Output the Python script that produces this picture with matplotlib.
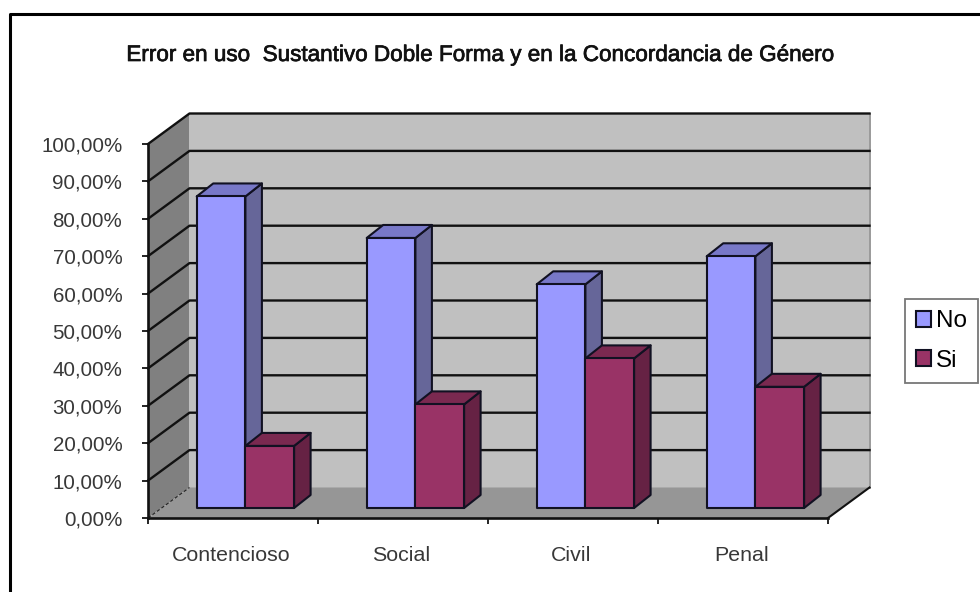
import matplotlib
matplotlib.use('Agg')
import matplotlib.pyplot as plt
import matplotlib.patheffects as pe
from matplotlib.lines import Line2D
from matplotlib.patches import Patch, Polygon

W, H = 980, 592

categories = ['Contencioso', 'Social', 'Civil', 'Penal']
no_values = [83.3, 72.2, 59.8, 67.3]
si_values = [16.6, 27.7, 40.0, 32.4]
y_ticks = [0, 10, 20, 30, 40, 50, 60, 70, 80, 90, 100]
y_labels = ['0,00%', '10,00%', '20,00%', '30,00%', '40,00%', '50,00%',
            '60,00%', '70,00%', '80,00%', '90,00%', '100,00%']
title = 'Error en uso  Sustantivo Doble Forma y en la Concordancia de Género'

plt.rcParams['font.family'] = ['Liberation Sans', 'DejaVu Sans']

fig = plt.figure(figsize=(W / 100, H / 100), dpi=100)
ax = fig.add_axes([148 / W, 1 - 518 / H, 680 / W, 374 / H])
ax.set_xlim(0, 4)
ax.set_ylim(0, 100)
ax.patch.set_visible(False)

# fake 3d: depth offsets in data units (170 px per category, 3.74 px per %)
depth_x = 41.5 / 170
depth_y = 30.5 / 3.74
bar_w = 48.7 / 170
bar_shift = 48.7 / 170
bar_lift = 10 / 3.74
bar_dx = 16.5 / 170
bar_dy = 13 / 3.74


def poly(points, face, edge='none', lw=0, z=1):
    ax.add_patch(Polygon(points, closed=True, facecolor=face, edgecolor=edge,
                         linewidth=lw, clip_on=False, zorder=z, joinstyle='round'))


def bar(x, val, front, side, top, z):
    y0 = bar_lift
    y1 = bar_lift + val
    poly([(x + bar_w, y0), (x + bar_w + bar_dx, y0 + bar_dy),
          (x + bar_w + bar_dx, y1 + bar_dy), (x + bar_w, y1)], side, '#111122', 1.5, z)
    poly([(x, y1), (x + bar_dx, y1 + bar_dy), (x + bar_w + bar_dx, y1 + bar_dy),
          (x + bar_w, y1)], top, '#111122', 1.5, z)
    poly([(x, y0), (x + bar_w, y0), (x + bar_w, y1), (x, y1)], front, '#111122', 1.5, z)


# walls and floor
poly([(0, 0), (depth_x, depth_y), (depth_x, 100 + depth_y), (0, 100)], '#808080')
poly([(depth_x, depth_y), (4 + depth_x, depth_y), (4 + depth_x, 100 + depth_y),
      (depth_x, 100 + depth_y)], '#c0c0c0')
poly([(0, 0), (4, 0), (4 + depth_x, depth_y), (depth_x, depth_y)], '#969696')
ax.plot([4 + depth_x, 4 + depth_x], [depth_y, 100 + depth_y], color='#9a9a9a', lw=1.4,
        clip_on=False, zorder=1.5)

# grid runs along side wall and back wall
for t in y_ticks[1:]:
    ax.plot([0, depth_x, 4 + depth_x], [t, t + depth_y, t + depth_y], color='#111111',
            lw=1.7, clip_on=False, zorder=2)
ax.plot([0, depth_x], [0, depth_y], color='#222222', lw=0.8, ls=(0, (3, 2)),
        clip_on=False, zorder=2)
ax.plot([4, 4 + depth_x], [0, depth_y], color='#111111', lw=1.5, clip_on=False, zorder=2)

for i in range(len(categories)):
    bar(i + bar_shift, no_values[i], '#9999ff', '#666699', '#7878c8', 3 + i * 0.1)
    bar(i + bar_shift + bar_w, si_values[i], '#993366', '#662244', '#7a2950', 3.05 + i * 0.1)

for s in ['top', 'right']:
    ax.spines[s].set_visible(False)
for s in ['left', 'bottom']:
    ax.spines[s].set_linewidth(1.9)
    ax.spines[s].set_color('#111111')
    ax.spines[s].set_zorder(4)

ax.set_yticks(y_ticks)
ax.set_yticklabels(y_labels)
ax.set_xticks([0, 1, 2, 3, 4])
ax.set_xticklabels([])
ax.set_xticks([0.49, 1.49, 2.49, 3.49], minor=True)
ax.set_xticklabels(categories, minor=True)
ax.tick_params(axis='y', length=4.5, width=1.2, pad=14, labelsize=14.8, labelcolor='#383838')
ax.tick_params(axis='x', which='major', length=4.5, width=1.2)
ax.tick_params(axis='x', which='minor', length=0, pad=20, labelsize=15.4, labelcolor='#383838')

t = fig.text(481 / W, 1 - 55.5 / H, title, ha='center', va='center', fontsize=16.2, color='#111111')
t.set_path_effects([pe.withStroke(linewidth=0.5, foreground='#111111')])

handles = [Patch(facecolor='#9999ff', edgecolor='#111122', linewidth=1.5, label='No'),
           Patch(facecolor='#993366', edgecolor='#111122', linewidth=1.5, label='Si')]
leg = fig.legend(handles=handles, loc='center left', bbox_to_anchor=(905 / W, 1 - 341 / H),
                 bbox_transform=fig.transFigure, fontsize=17.5, frameon=True, fancybox=False,
                 edgecolor='#777777', framealpha=1, borderaxespad=0, handlelength=0.6,
                 handleheight=0.62, handletextpad=0.22, labelspacing=0.72, borderpad=0.45)
leg.get_frame().set_linewidth(1.3)

# picture border, only top and left show
fig.add_artist(Line2D([10 / W, 10 / W, 1], [0, 1 - 14 / H, 1 - 14 / H],
                      transform=fig.transFigure, color='black', lw=2.2))

fig.savefig('out.png', dpi=100)
